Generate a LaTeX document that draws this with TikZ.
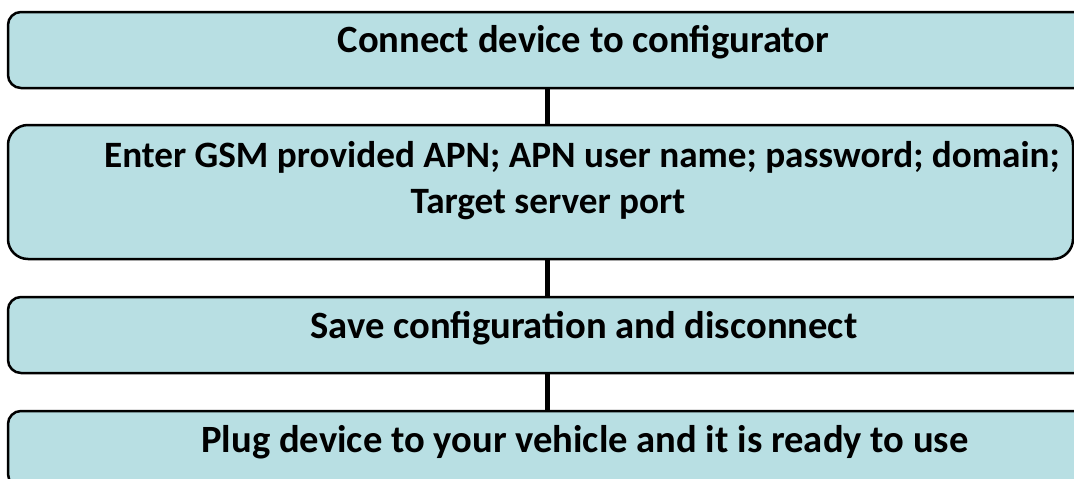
\documentclass[tikz,border=0pt]{standalone}
\usepackage{fontspec}
\setmainfont{Carlito}
\definecolor{boxfill}{RGB}{184,223,227}
\begin{document}
\begin{tikzpicture}[x=1pt,y=-1pt,
  flowbox/.style={draw=black, line width=2.5pt, fill=boxfill, rectangle, anchor=north west, inner sep=0pt, outer sep=0pt},
  boxlabel/.style={anchor=base, inner sep=0pt, font=\fontsize{38.6}{46}\selectfont\bfseries, text=black},
  smalllabel/.style={boxlabel, font=\fontsize{37.2}{46}\selectfont\bfseries},
  link/.style={draw=black, line width=5pt}]
\useasboundingbox (0,0) rectangle (1074,479);
\clip (0,0) rectangle (1074,479);
\node[flowbox, rounded corners=13pt, minimum width=1151pt, minimum height=76pt] (b1) at (8,12) {};
\node[flowbox, rounded corners=20pt, minimum width=1065pt, minimum height=134pt] (b2) at (8,125) {};
\node[flowbox, rounded corners=13pt, minimum width=1151pt, minimum height=76pt] (b3) at (8,297) {};
\node[flowbox, rounded corners=13pt, minimum width=1151pt, minimum height=76pt] (b4) at (8,411) {};
\node[boxlabel] (t1) at (583.5,52) {Connect device to configurator};
\node[smalllabel] (t2a) at (582,167) {Enter GSM provided APN; APN user name; password; domain;};
\node[smalllabel] (t2b) at (548,213) {Target server port};
\node[boxlabel] (t3) at (584,338) {Save configuration and disconnect};
\node[boxlabel] (t4) at (585,452) {Plug device to your vehicle and it is ready to use};
\coordinate (cx) at (547,0);
\draw[link] (b1.south -| cx) -- (b2.north -| cx);
\draw[link] (b2.south -| cx) -- (b3.north -| cx);
\draw[link] (b3.south -| cx) -- (b4.north -| cx);
\end{tikzpicture}
\end{document}
